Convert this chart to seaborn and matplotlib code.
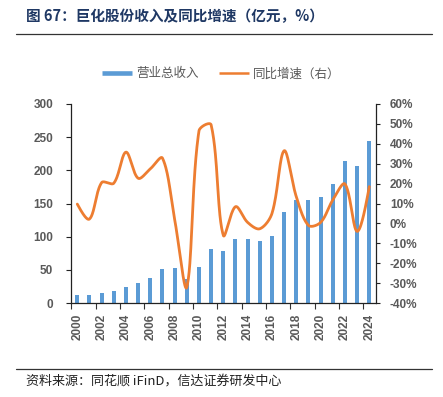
import numpy as np
import pandas as pd
import matplotlib
matplotlib.use("Agg")
import matplotlib.pyplot as plt
from matplotlib.lines import Line2D
import seaborn as sns

years = [str(y) for y in range(2000, 2025)]
revenue = [12, 12, 15, 18, 24, 30, 38, 51, 53, 36, 54, 81, 78, 96, 97,
           94, 101, 137, 156, 155, 160, 179, 214, 206, 244]
growth = [9.7, 2.2, 20.5, 20.2, 35.8, 22.7, 27.4, 32.8, 2.0, -32.0, 46.5,
          49.5, -6.0, 8.4, 0.5, -2.7, 5.0, 36.5, 13.4, -1.0, 0.5, 11.8,
          19.8, -4.0, 18.5]
left_ticks = [0, 50, 100, 150, 200, 250, 300]
right_ticks = list(range(-40, 61, 10))
title = "图 67：巨化股份收入及同比增速（亿元，%）"
source = "资料来源：同花顺 iFinD，信达证券研发中心"
legend_labels = ["营业总收入", "同比增速（右）"]

BLUE = "#5B9BD5"
ORANGE = "#ED7D31"
GRAY = "#595959"

sns.set_style("ticks")
plt.rcParams["font.family"] = ["Liberation Sans", "Noto Sans CJK SC", "DejaVu Sans"]

W, H = 443, 397
fig = plt.figure(figsize=(W / 100, H / 100), dpi=100)

x0, x1, y0, y1 = 70.6, 376.0, 104.0, 303.0
ax = fig.add_axes([x0 / W, 1 - y1 / H, (x1 - x0) / W, (y1 - y0) / H])

df = pd.DataFrame({"year": years, "revenue": revenue})
sns.barplot(data=df, x="year", y="revenue", ax=ax, color=BLUE, width=0.33,
            saturation=1, edgecolor="none")
ax.set_xlim(-0.55, 24.55)
ax.set_ylim(0, 300)
ax.set_yticks(left_ticks)
ax.set_xlabel("")
ax.set_ylabel("")

# x ticks: labels every two years, tick marks at category boundaries
ax.set_xticks(list(range(0, 25, 2)))
ax.set_xticklabels(years[::2], rotation=90)
ax.set_xticks([i - 0.5 for i in range(0, 25, 2)], minor=True)
ax.tick_params(axis="x", which="major", length=0, pad=8, labelsize=8.5,
               labelcolor=GRAY)
ax.tick_params(axis="x", which="minor", length=4, width=0.8, color="#333333",
               direction="out")
ax.tick_params(axis="y", length=3.5, width=0.8, color="#222222", pad=9,
               labelsize=8.5, labelcolor=GRAY)
for lab in ax.get_xticklabels() + ax.get_yticklabels():
    lab.set_fontweight("bold")


# Excel-like smoothed line: cubic Bezier with tangents split by
# adjacent segment lengths (computed in screen space)
def excel_smooth(xv, yv, sx, sy, n=30, t=1 / 3):
    P = np.column_stack([np.asarray(xv, float) * sx, np.asarray(yv, float) * sy])
    m = len(P)
    fwd = np.zeros_like(P)
    back = np.zeros_like(P)
    for i in range(m):
        if i == 0 or i == m - 1:
            fwd[i] = P[i]
            back[i] = P[i]
            continue
        d1 = np.linalg.norm(P[i] - P[i - 1])
        d2 = np.linalg.norm(P[i + 1] - P[i])
        tan = P[i + 1] - P[i - 1]
        fwd[i] = P[i] + tan * t * d2 / (d1 + d2)
        back[i] = P[i] - tan * t * d1 / (d1 + d2)
    # end points: aim control toward neighbour's control
    fwd[0] = P[0] + (back[1] - P[0]) * 0.5 * 0.66
    back[-1] = P[-1] + (fwd[-2] - P[-1]) * 0.5 * 0.66
    u = np.linspace(0, 1, n, endpoint=False)[:, None]
    pts = []
    for i in range(m - 1):
        b = ((1 - u) ** 3 * P[i] + 3 * (1 - u) ** 2 * u * fwd[i]
             + 3 * (1 - u) * u ** 2 * back[i + 1] + u ** 3 * P[i + 1])
        pts.append(b)
    pts.append(P[-1][None, :])
    pts = np.vstack(pts)
    return pts[:, 0] / sx, pts[:, 1] / sy


ax2 = ax.twinx()
sx_, sy_ = excel_smooth(np.arange(len(growth)), growth, 12.17, 1.99)
sns.lineplot(x=sx_, y=sy_, ax=ax2, color=ORANGE, linewidth=2.0, sort=False,
             estimator=None)
ax2.set_ylim(-40, 60)
ax2.set_yticks(right_ticks)
ax2.set_yticklabels([f"{v}%" for v in right_ticks])
ax2.tick_params(axis="y", length=3, width=0.8, color="#222222", pad=7,
                labelsize=8.5, labelcolor=GRAY)
for lab in ax2.get_yticklabels():
    lab.set_fontweight("bold")
ax2.set_xlim(-0.55, 24.55)

for a in (ax, ax2):
    a.spines["top"].set_visible(False)
    for s in ("left", "bottom", "right"):
        a.spines[s].set_color("#222222")
        a.spines[s].set_linewidth(0.9)
ax.spines["right"].set_visible(False)
ax2.spines["left"].set_visible(False)
ax2.spines["bottom"].set_visible(False)
ax2.spines["right"].set_visible(True)

# legend
handles = [Line2D([0], [0], color=BLUE, linewidth=3.3, solid_capstyle="butt"),
           Line2D([0], [0], color=ORANGE, linewidth=1.8, solid_capstyle="butt")]
fig.legend(handles, legend_labels, loc="center", ncol=2,
           bbox_to_anchor=(221 / W, 1 - 74 / H), frameon=False,
           handlelength=2.45, handletextpad=0.3, columnspacing=1.6,
           prop={"family": ["Noto Sans CJK SC"], "size": 9})
for t in fig.legends[0].get_texts():
    t.set_color(GRAY)

# title and rules
fig.text(26 / W, 1 - 16 / H, title, ha="left", va="center", fontsize=10.5,
         fontweight="bold", color="#1F3864",
         family=["Noto Sans CJK SC", "DejaVu Sans"])
fig.add_artist(Line2D([16 / W, 432 / W], [1 - 33.5 / H, 1 - 33.5 / H],
                      color="#333333", linewidth=0.9))
fig.add_artist(Line2D([16 / W, 432 / W], [1 - 369 / H, 1 - 369 / H],
                      color="#333333", linewidth=0.9))
fig.text(26 / W, 1 - 381 / H, source, ha="left", va="center", fontsize=9.4,
         style="italic", color="#222222",
         family=["Noto Sans CJK SC", "DejaVu Sans"])

fig.savefig("out.png", dpi=100)
